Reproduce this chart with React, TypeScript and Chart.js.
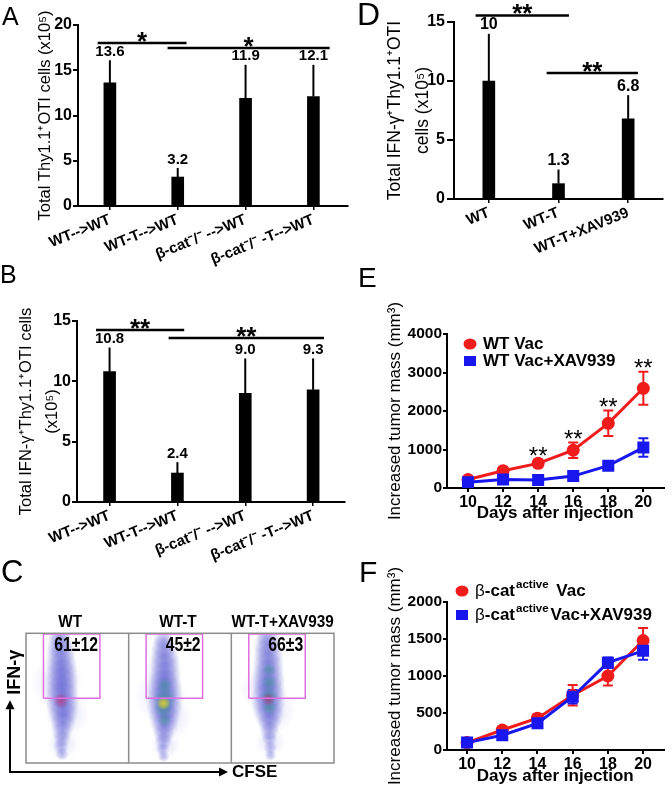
import React, { useEffect, useRef } from 'react';
import { Chart, registerables } from 'chart.js';

Chart.register(...registerables);

const FONT = "'Liberation Sans', Arial, Helvetica, sans-serif";
Chart.defaults.font.family = FONT;
Chart.defaults.color = '#000';

// ---------- Panel A ----------
const catsA = ['WT-->WT', 'WT-T-->WT', 'β-cat⁻/⁻ -->WT', 'β-cat⁻/⁻ -T-->WT'];
const meanA = [13.6, 3.2, 11.9, 12.1];
const errA = [2.5, 1.0, 3.7, 3.5];
const labelA = ['13.6', '3.2', '11.9', '12.1'];
const sigA: [number, number, number, string][] = [
  [-0.18, 1.13, 18.0, '*'],
  [0.85, 3.24, 17.45, '*'],
];

// ---------- Panel B ----------
const catsB = ['WT-->WT', 'WT-T-->WT', 'β-cat⁻/⁻ -->WT', 'β-cat⁻/⁻ -T-->WT'];
const meanB = [10.8, 2.4, 9.0, 9.3];
const errB = [2.0, 0.9, 2.9, 2.6];
const labelB = ['10.8', '2.4', '9.0', '9.3'];
const sigB: [number, number, number, string][] = [
  [-0.2, 1.1, 14.25, '**'],
  [0.87, 3.16, 13.6, '**'],
];

// ---------- Panel D ----------
const catsD = ['WT', 'WT-T', 'WT-T+XAV939'];
const meanD = [10, 1.3, 6.8];
const errD = [4.0, 1.2, 2.0];
const labelD = ['10', '1.3', '6.8'];
const sigD: [number, number, number, string][] = [
  [-0.19, 1.15, 15.56, '**'],
  [0.83, 2.14, 10.68, '**'],
];

// ---------- Panels E / F ----------
const days = [10, 12, 14, 16, 18, 20];
const vacE = [220, 450, 640, 980, 1680, 2590];
const vacErrE = [40, 50, 100, 200, 330, 430];
const xavE = [150, 220, 210, 310, 580, 1050];
const xavErrE = [40, 50, 50, 60, 110, 240];
const sigE = ['', '', '**', '**', '**', '**'];

const vacF = [100, 270, 430, 740, 1000, 1480];
const vacErrF = [20, 40, 50, 140, 130, 170];
const xavF = [100, 200, 360, 720, 1180, 1340];
const xavErrF = [20, 30, 40, 90, 70, 120];

// ---------- Panel C (flow cytometry, density) ----------
const flowTitles = ['WT', 'WT-T', 'WT-T+XAV939'];
const flowPct = ['61±12', '45±2', '66±3'];
const gateX = [17, 72];
const gateY = [50, 99.5];
// [x, y, radius(px)] ; x 0-300 (three panels of 100), y 0-100
const flowHalo = [
  [30, 62, 26], [40, 38, 22], [36, 15, 16],
  [131, 52, 26], [140, 35, 22], [136, 14, 15],
  [232, 57, 24], [241, 40, 22], [238, 16, 15],
];
const flowBlue = [
  [33, 97, 12], [33, 91, 14], [34, 85, 15], [34, 79, 16], [35, 73, 16], [35, 67, 17], [35, 61, 17], [35, 55, 17],
  [35, 49, 18], [36, 43, 17], [36, 37, 15], [36, 31, 13], [35, 25, 11], [35, 19, 9], [34, 13, 8], [35, 7, 7],
  [134, 95, 11], [134, 89, 13], [135, 83, 15], [135, 77, 16], [135, 71, 17], [135, 65, 17], [135, 59, 18], [135, 53, 19],
  [135, 47, 19], [135, 41, 18], [135, 35, 16], [135, 29, 14], [134, 23, 11], [134, 17, 9], [133, 11, 7], [134, 5, 6],
  [235, 97, 12], [235, 91, 14], [236, 85, 15], [236, 79, 16], [236, 73, 16], [236, 67, 17], [236, 61, 17], [236, 55, 17],
  [236, 49, 18], [236, 43, 17], [237, 37, 15], [237, 31, 12], [237, 25, 10], [237, 19, 8], [238, 12, 7], [238, 6, 6],
];
const flowGreen = [
  [135, 50, 12], [134, 42, 10], [135, 60, 8], [135, 33, 7],
  [237, 72, 7], [237, 62, 8], [237, 52, 9], [237, 43, 8],
];
const flowYellow = [[134, 46, 7]];
const flowRed = [[34, 48, 8], [236, 49, 7]];

const RED = '#f01c1c';
const BLUE = '#1717ee';
const GATE = '#e06ee0';

function barExtras(o: any) {
  return {
    id: 'barExtras',
    afterDatasetsDraw(chart: any) {
      const { ctx } = chart;
      const xs = chart.scales.x;
      const ys = chart.scales.y;
      const meta = chart.getDatasetMeta(0);
      ctx.save();
      ctx.strokeStyle = '#000';
      ctx.fillStyle = '#000';
      meta.data.forEach((el: any, i: number) => {
        const x = el.x;
        const top = ys.getPixelForValue(o.mean[i] + o.err[i]);
        ctx.lineWidth = 2;
        ctx.beginPath();
        ctx.moveTo(x, el.y);
        ctx.lineTo(x, top);
        ctx.stroke();
        ctx.font = o.labelFont;
        ctx.textAlign = 'center';
        ctx.textBaseline = 'bottom';
        ctx.fillText(o.labels[i], x, top - 1);
      });
      o.sig.forEach(([a, b, y, t]: any) => {
        const py = ys.getPixelForValue(y);
        const xa = xs.getPixelForValue(a);
        const xb = xs.getPixelForValue(b);
        ctx.lineWidth = 2.5;
        ctx.beginPath();
        ctx.moveTo(xa, py);
        ctx.lineTo(xb, py);
        ctx.stroke();
        ctx.font = `bold 26px ${FONT}`;
        ctx.textAlign = 'center';
        ctx.textBaseline = 'alphabetic';
        const m = ctx.measureText(t);
        const target = py - 6;
        ctx.fillText(t, (xa + xb) / 2, target + (m.actualBoundingBoxAscent - m.actualBoundingBoxDescent) / 2);
      });
      ctx.restore();
    },
  };
}

function makeBar(canvas: HTMLCanvasElement, o: any) {
  return new Chart(canvas, {
    type: 'bar',
    data: {
      datasets: [
        {
          data: o.mean.map((v: number, i: number) => ({ x: i, y: v })),
          backgroundColor: '#000',
          barThickness: 12,
        },
      ],
    },
    options: {
      responsive: false,
      animation: false,
      devicePixelRatio: 1,
      events: [],
      layout: { padding: o.pad },
      plugins: { legend: { display: false }, tooltip: { enabled: false } },
      scales: {
        x: {
          type: 'linear',
          offset: false,
          min: o.xMin,
          max: o.xMax,
          afterBuildTicks: (s: any) => {
            s.ticks = o.cats.map((_: any, i: number) => ({ value: i }));
          },
          afterFit: (s: any) => {
            s.height = o.xH;
          },
          ticks: {
            callback: (v: any) => o.cats[v] ?? '',
            minRotation: 22,
            maxRotation: 22,
            autoSkip: false,
            font: { size: 15, weight: 'bold' },
            color: '#000',
            padding: 1,
          },
          grid: { display: true, offset: false, drawOnChartArea: false, drawTicks: true, tickLength: 4, color: '#000', lineWidth: 1.5 },
          border: { display: true, color: '#000', width: 2 },
        },
        y: {
          min: 0,
          max: o.yMax,
          ticks: { stepSize: 5, font: { size: 16, weight: 'bold' }, color: '#000', padding: o.tickPad },
          grid: { display: true, drawOnChartArea: false, drawTicks: true, tickLength: o.tickLen, color: '#000', lineWidth: 2 },
          border: { display: true, color: '#000', width: 2 },
          title: {
            display: true,
            text: o.title,
            color: '#000',
            font: { size: o.titleSize, lineHeight: o.titleLH },
            padding: { top: 4, bottom: 4 },
          },
          afterFit: (s: any) => {
            s.width = o.yW;
          },
        },
      },
    } as any,
    plugins: [barExtras(o)],
  });
}

function lineExtras(o: any) {
  return {
    id: 'lineExtras',
    beforeDatasetsDraw(chart: any) {
      const { ctx } = chart;
      const xs = chart.scales.x;
      const ys = chart.scales.y;
      ctx.save();
      o.series.forEach((s: any) => {
        ctx.strokeStyle = s.color;
        ctx.lineWidth = 2;
        days.forEach((d, i) => {
          const px = xs.getPixelForValue(d);
          const t = ys.getPixelForValue(s.mean[i] + s.err[i]);
          const b = ys.getPixelForValue(s.mean[i] - s.err[i]);
          ctx.beginPath();
          ctx.moveTo(px, t);
          ctx.lineTo(px, b);
          ctx.moveTo(px - 5, t);
          ctx.lineTo(px + 5, t);
          ctx.moveTo(px - 5, b);
          ctx.lineTo(px + 5, b);
          ctx.stroke();
        });
      });
      ctx.restore();
    },
    afterDatasetsDraw(chart: any) {
      const { ctx, chartArea: a } = chart;
      const xs = chart.scales.x;
      const ys = chart.scales.y;
      ctx.save();
      ctx.fillStyle = '#000';
      if (o.stars) {
        const s0 = o.series[0];
        ctx.font = `24px ${FONT}`;
        ctx.textAlign = 'center';
        ctx.textBaseline = 'alphabetic';
        o.stars.forEach((t: string, i: number) => {
          if (!t) return;
          const top = ys.getPixelForValue(s0.mean[i] + s0.err[i]);
          const m = ctx.measureText(t);
          const target = top - 8;
          ctx.fillText(t, xs.getPixelForValue(days[i]), target + (m.actualBoundingBoxAscent - m.actualBoundingBoxDescent) / 2);
        });
      }
      o.legend.forEach((it: any) => {
        const y = a.top + it.dy;
        const mx = a.left + o.legendMarkerX;
        ctx.fillStyle = it.color;
        ctx.beginPath();
        if (it.shape === 'circle') {
          ctx.ellipse(mx, y, 6.5, 5.5, 0, 0, Math.PI * 2);
          ctx.fill();
        } else {
          ctx.fillRect(mx - 6, y - 5, 12, 10);
        }
        ctx.fillStyle = '#000';
        ctx.textAlign = 'left';
        ctx.textBaseline = 'middle';
        let x = a.left + o.legendTextX;
        it.parts.forEach((p: any) => {
          ctx.font = p.font;
          ctx.fillText(p.t, x + (p.dx || 0), y + (p.dy || 0));
          x += ctx.measureText(p.t).width + (p.dx || 0);
        });
      });
      ctx.restore();
    },
  };
}

function makeLine(canvas: HTMLCanvasElement, o: any) {
  return new Chart(canvas, {
    type: 'line',
    data: {
      datasets: [
        {
          data: days.map((d, i) => ({ x: d, y: o.series[1].mean[i] })),
          borderColor: BLUE,
          backgroundColor: BLUE,
          borderWidth: 3,
          pointStyle: 'rect',
          pointRadius: 8.5,
          pointBorderWidth: 0,
          tension: 0,
        },
        {
          data: days.map((d, i) => ({ x: d, y: o.series[0].mean[i] })),
          borderColor: RED,
          backgroundColor: RED,
          borderWidth: 3,
          pointStyle: 'circle',
          pointRadius: 6.5,
          pointBorderWidth: 0,
          tension: 0,
        },
      ],
    },
    options: {
      responsive: false,
      animation: false,
      devicePixelRatio: 1,
      events: [],
      layout: { padding: o.pad },
      plugins: { legend: { display: false }, tooltip: { enabled: false } },
      scales: {
        x: {
          type: 'linear',
          min: o.xMin,
          max: o.xMax,
          afterBuildTicks: (s: any) => {
            s.ticks = days.map((d) => ({ value: d }));
          },
          afterFit: (s: any) => {
            s.height = o.xH;
          },
          ticks: { font: { size: 16, weight: 'bold' }, color: '#000', padding: 1, callback: (v: any) => String(v) },
          grid: { display: true, drawOnChartArea: false, drawTicks: true, tickLength: 4, color: '#000', lineWidth: 2 },
          border: { display: true, color: '#000', width: 2 },
          title: {
            display: true,
            text: 'Days after injection',
            color: '#000',
            font: { size: 17, weight: 'bold', lineHeight: 1.2 },
            padding: { top: 0, bottom: o.xTitlePad },
          },
        },
        y: {
          min: 0,
          max: o.yMax,
          ticks: { stepSize: o.yStep, font: { size: 15.5, weight: 'bold' }, color: '#000', padding: 1, callback: (v: any) => String(v) },
          grid: { display: true, drawOnChartArea: false, drawTicks: true, tickLength: 4, color: '#000', lineWidth: 2 },
          border: { display: true, color: '#000', width: 2 },
          title: {
            display: true,
            text: 'Increased tumor mass (mm³)',
            color: '#000',
            font: { size: 17, lineHeight: 1.2 },
            padding: { top: 4, bottom: 4 },
          },
          afterFit: (s: any) => {
            s.width = o.yW;
          },
        },
      },
    } as any,
    plugins: [lineExtras(o)],
  });
}

function radial(rgb: string, alpha: number) {
  return (c: any) => {
    const flat = `rgba(${rgb},${alpha * 0.5})`;
    const raw = c.raw;
    const chart = c.chart;
    const xs = chart && chart.scales && chart.scales.x;
    const ys = chart && chart.scales && chart.scales.y;
    if (!raw || !xs || !ys) return flat;
    const px = xs.getPixelForValue(raw.x);
    const py = ys.getPixelForValue(raw.y);
    if (!isFinite(px) || !isFinite(py) || !isFinite(raw.r)) return flat;
    const g = chart.ctx.createRadialGradient(px, py, 0, px, py, Math.max(raw.r, 1));
    g.addColorStop(0, `rgba(${rgb},${alpha})`);
    g.addColorStop(0.5, `rgba(${rgb},${alpha * 0.6})`);
    g.addColorStop(1, `rgba(${rgb},0)`);
    return g;
  };
}

function drawArrow(ctx: CanvasRenderingContext2D, x0: number, y0: number, x1: number, y1: number) {
  const ang = Math.atan2(y1 - y0, x1 - x0);
  const L = 9;
  const W = 4.5;
  const bx = x1 - L * Math.cos(ang);
  const by = y1 - L * Math.sin(ang);
  ctx.beginPath();
  ctx.moveTo(x0, y0);
  ctx.lineTo(bx, by);
  ctx.stroke();
  ctx.beginPath();
  ctx.moveTo(x1, y1);
  ctx.lineTo(bx + W * Math.sin(ang), by - W * Math.cos(ang));
  ctx.lineTo(bx - W * Math.sin(ang), by + W * Math.cos(ang));
  ctx.closePath();
  ctx.fill();
}

const flowTitleX = [43, 48, 50];

const flowExtras = {
  id: 'flowExtras',
  afterDatasetsDraw(chart: any) {
    const { ctx, chartArea: a } = chart;
    const xs = chart.scales.x;
    const ys = chart.scales.y;
    ctx.save();
    ctx.strokeStyle = '#8c8c8c';
    ctx.lineWidth = 1.5;
    ctx.strokeRect(a.left, a.top, a.right - a.left, a.bottom - a.top);
    [100, 200].forEach((v) => {
      const px = xs.getPixelForValue(v);
      ctx.beginPath();
      ctx.moveTo(px, a.top);
      ctx.lineTo(px, a.bottom);
      ctx.stroke();
    });
    ctx.fillStyle = '#000';
    ctx.font = `bold 17px ${FONT}`;
    ctx.textAlign = 'center';
    ctx.textBaseline = 'middle';
    flowTitles.forEach((t, i) => {
      ctx.save();
      ctx.translate(xs.getPixelForValue(i * 100 + flowTitleX[i]), a.top - 11);
      ctx.scale(0.9, 1);
      ctx.fillText(t, 0, 0);
      ctx.restore();
    });
    flowPct.forEach((t, i) => {
      const rx = xs.getPixelForValue(i * 100 + gateX[1]) - 2;
      ctx.save();
      ctx.translate(rx, ys.getPixelForValue(gateY[1]) + 11);
      ctx.scale(0.75, 1);
      ctx.font = `bold 21px ${FONT}`;
      ctx.textAlign = 'right';
      ctx.textBaseline = 'middle';
      ctx.fillText(t, 0, 0);
      ctx.restore();
    });
    ctx.strokeStyle = '#000';
    ctx.fillStyle = '#000';
    ctx.lineWidth = 2;
    const ox = a.left - 16;
    const oy = a.bottom + 9;
    drawArrow(ctx, ox, oy + 1, ox, a.top + 67);
    drawArrow(ctx, ox - 1, oy, 228, oy);
    ctx.font = `bold 17px ${FONT}`;
    ctx.textAlign = 'left';
    ctx.textBaseline = 'middle';
    ctx.fillText('CFSE', 232, oy);
    ctx.save();
    ctx.translate(ox + 5, a.top + 39);
    ctx.rotate(-Math.PI / 2);
    ctx.font = `bold 18px ${FONT}`;
    ctx.textAlign = 'center';
    ctx.fillText('IFN-γ', 0, 0);
    ctx.restore();
    ctx.restore();
  },
};

function makeFlow(canvas: HTMLCanvasElement) {
  const toPts = (arr: number[][]) => arr.map(([x, y, r]) => ({ x, y, r }));
  const gateDs = [0, 100, 200].map((off) => ({
    type: 'line',
    data: [
      [gateX[0], gateY[0]],
      [gateX[1], gateY[0]],
      [gateX[1], gateY[1]],
      [gateX[0], gateY[1]],
      [gateX[0], gateY[0]],
    ].map(([x, y]) => ({ x: x + off, y })),
    borderColor: GATE,
    borderWidth: 1.5,
    pointRadius: 0,
    fill: false,
    tension: 0,
    order: 0,
  }));
  return new Chart(canvas, {
    type: 'bubble',
    data: {
      datasets: [
        ...gateDs,
        { data: toPts(flowRed), backgroundColor: radial('200,30,90', 0.5), borderWidth: 0, order: 1 },
        { data: toPts(flowYellow), backgroundColor: radial('235,215,30', 0.85), borderWidth: 0, order: 1 },
        { data: toPts(flowGreen), backgroundColor: radial('40,160,120', 0.42), borderWidth: 0, order: 2 },
        { data: toPts(flowBlue), backgroundColor: radial('40,40,195', 0.32), borderWidth: 0, order: 3 },
        { data: toPts(flowHalo), backgroundColor: radial('80,80,220', 0.14), borderWidth: 0, order: 4 },
      ] as any,
    },
    options: {
      responsive: false,
      animation: false,
      devicePixelRatio: 1,
      events: [],
      layout: { padding: { left: 23.3, right: 9, top: 88.3, bottom: 23 } },
      plugins: { legend: { display: false }, tooltip: { enabled: false } },
      scales: {
        x: { type: 'linear', min: 0, max: 300, display: false },
        y: { type: 'linear', min: 0, max: 100, display: false },
      },
    } as any,
    plugins: [flowExtras],
  });
}

const letters = [
  { t: 'A', l: 2, top: 4, s: 25 },
  { t: 'B', l: 0, top: 262, s: 25 },
  { t: 'C', l: 1, top: 556, s: 31 },
  { t: 'D', l: 357, top: -2, s: 32 },
  { t: 'E', l: 358, top: 264, s: 28 },
  { t: 'F', l: 359, top: 557, s: 30 },
];

export default function App() {
  const rA = useRef<HTMLCanvasElement>(null);
  const rB = useRef<HTMLCanvasElement>(null);
  const rC = useRef<HTMLCanvasElement>(null);
  const rD = useRef<HTMLCanvasElement>(null);
  const rE = useRef<HTMLCanvasElement>(null);
  const rF = useRef<HTMLCanvasElement>(null);

  useEffect(() => {
    const charts: Chart[] = [];
    const safe = (f: () => Chart) => {
      try {
        charts.push(f());
      } catch (e) {
        console.error(e);
      }
    };
    safe(() =>
      makeBar(rA.current!, {
        cats: catsA, mean: meanA, err: errA, labels: labelA, sig: sigA,
        yMax: 20, xMin: -0.47, xMax: 3.51,
        pad: { left: 32, top: 25, right: 4, bottom: 0 }, yW: 46, xH: 69,
        tickLen: 5, tickPad: 1,
        title: 'Total Thy1.1⁺OTI cells (x10⁵)', titleSize: 16.5, titleLH: 1.2,
        labelFont: `bold 15px ${FONT}`,
      })
    );
    safe(() =>
      makeBar(rB.current!, {
        cats: catsB, mean: meanB, err: errB, labels: labelB, sig: sigB,
        yMax: 15, xMin: -0.48, xMax: 3.47,
        pad: { left: 9, top: 71, right: 7, bottom: 0 }, yW: 68, xH: 63,
        tickLen: 5, tickPad: 1,
        title: ['Total IFN-γ⁺Thy1.1⁺OTI cells', '(x10⁵)'], titleSize: 16.5, titleLH: 1.6,
        labelFont: `bold 15px ${FONT}`,
      })
    );
    safe(() => makeFlow(rC.current!));
    safe(() =>
      makeBar(rD.current!, {
        cats: catsD, mean: meanD, err: errD, labels: labelD, sig: sigD,
        yMax: 15, xMin: -0.5, xMax: 2.5,
        pad: { left: 42, top: 22, right: 9, bottom: 0 }, yW: 77, xH: 56,
        tickLen: 7, tickPad: 2,
        title: ['Total IFN-γ⁺Thy1.1⁺OTI', 'cells (x10⁵)'], titleSize: 17.5, titleLH: 1.6,
        labelFont: `bold 16px ${FONT}`,
      })
    );
    safe(() =>
      makeLine(rE.current!, {
        series: [
          { mean: vacE, err: vacErrE, color: RED },
          { mean: xavE, err: xavErrE, color: BLUE },
        ],
        stars: sigE,
        yMax: 4000, yStep: 1000, xMin: 8.8, xMax: 21.15,
        pad: { left: 46, top: 79, right: 2, bottom: 0 }, yW: 66, xH: 37, xTitlePad: 1,
        legendMarkerX: 23, legendTextX: 36,
        legend: [
          { dy: 10, color: RED, shape: 'circle', parts: [{ t: 'WT Vac', font: `bold 17px ${FONT}` }] },
          { dy: 27, color: BLUE, shape: 'rect', parts: [{ t: 'WT Vac+XAV939', font: `bold 17px ${FONT}` }] },
        ],
      })
    );
    safe(() =>
      makeLine(rF.current!, {
        series: [
          { mean: vacF, err: vacErrF, color: RED },
          { mean: xavF, err: xavErrF, color: BLUE },
        ],
        stars: null,
        yMax: 2000, yStep: 500, xMin: 8.86, xMax: 21.16,
        pad: { left: 46, top: 82, right: 2, bottom: 0 }, yW: 66, xH: 39, xTitlePad: 2,
        legendMarkerX: 15, legendTextX: 28,
        legend: [
          {
            dy: -11, color: RED, shape: 'circle',
            parts: [
              { t: 'β', font: `17px ${FONT}` },
              { t: '-cat', font: `bold 17px ${FONT}` },
              { t: 'active', font: `bold 11.5px ${FONT}`, dy: -6, dx: 1 },
              { t: ' Vac', font: `bold 17px ${FONT}`, dx: 3 },
            ],
          },
          {
            dy: 13, color: BLUE, shape: 'rect',
            parts: [
              { t: 'β', font: `17px ${FONT}` },
              { t: '-cat', font: `bold 17px ${FONT}` },
              { t: 'active', font: `bold 11.5px ${FONT}`, dy: -6, dx: 1 },
              { t: 'Vac+XAV939', font: `bold 17px ${FONT}`, dx: 2 },
            ],
          },
        ],
      })
    );
    return () => charts.forEach((c) => c.destroy());
  }, []);

  const cv = (ref: any, l: number, t: number, w: number, h: number) => (
    <canvas ref={ref} width={w} height={h} style={{ position: 'absolute', left: l, top: t, width: w, height: h }} />
  );

  return (
    <div
      style={{
        position: 'fixed', left: 0, top: 0, width: 672, height: 789,
        background: '#fff', overflow: 'hidden', fontFamily: FONT,
      }}
    >
      {cv(rA, 0, 0, 352, 275)}
      {cv(rB, 0, 250, 352, 315)}
      {cv(rC, 0, 545, 360, 244)}
      {cv(rD, 335, 0, 337, 255)}
      {cv(rE, 335, 255, 337, 270)}
      {cv(rF, 335, 520, 337, 269)}
      {letters.map((L) => (
        <div
          key={L.t}
          style={{
            position: 'absolute', left: L.l, top: L.top, fontSize: L.s, lineHeight: 1,
            fontFamily: FONT, color: '#000',
          }}
        >
          {L.t}
        </div>
      ))}
    </div>
  );
}
